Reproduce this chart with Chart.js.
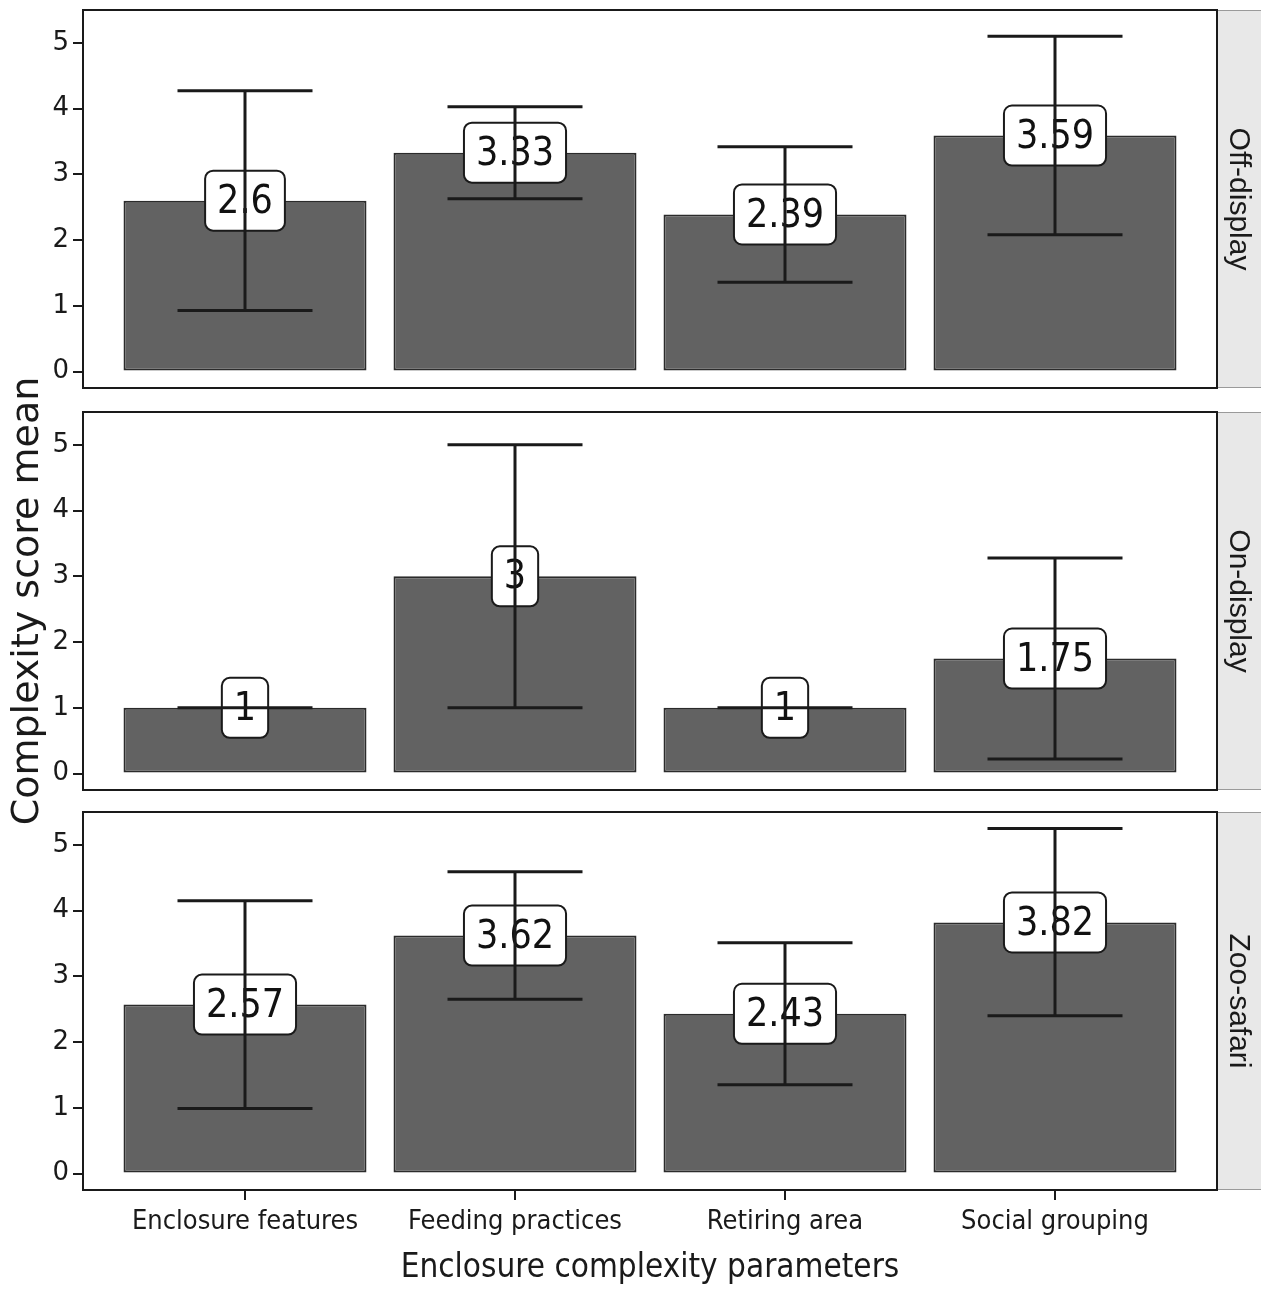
<!DOCTYPE html>
<html>
<head>
<meta charset="utf-8">
<script src="https://cdn.jsdelivr.net/npm/chart.js@4.4.1/dist/chart.umd.min.js"></script>
<style>
  html, body { margin: 0; padding: 0; background: #fff; overflow: hidden; }
  #wrap { position: relative; width: 1261px; height: 1292px; overflow: hidden; }
  #wrap canvas { position: absolute; left: 0; }
  #ytitle {
    position: absolute; left: -275px; top: 579px; width: 600px; height: 44px;
    line-height: 44px; text-align: center; transform: rotate(-90deg);
    font: 38px 'DejaVu Sans', sans-serif; color: #1a1a1a; white-space: nowrap;
  }
</style>
</head>
<body>
<div id="wrap">
  <canvas id="p1" width="1261" height="386" style="top:6px"></canvas>
  <canvas id="p2" width="1261" height="386" style="top:408px"></canvas>
  <canvas id="p3" width="1261" height="484" style="top:808px"></canvas>
  <div id="ytitle">Complexity score mean</div>
</div>
<script>
const categories = ['Enclosure features', 'Feeding practices', 'Retiring area', 'Social grouping'];
const panelNames = ['Off-display', 'On-display', 'Zoo-safari'];
const yTicks = [0, 1, 2, 3, 4, 5];

// means with lower / upper error bar ends
const offMean = [2.6, 3.33, 2.39, 3.59];
const offLow  = [0.93, 2.63, 1.36, 2.08];
const offHigh = [4.27, 4.03, 3.42, 5.1];

const onMean = [1, 3, 1, 1.75];
const onLow  = [1, 1, 1, 0.22];
const onHigh = [1, 5, 1, 3.28];

const zooMean = [2.57, 3.62, 2.43, 3.82];
const zooLow  = [0.99, 2.65, 1.35, 2.4];
const zooHigh = [4.15, 4.59, 3.51, 5.25];

const condensed = "'DejaVu Sans Condensed', 'Liberation Sans Narrow', 'DejaVu Sans', sans-serif";
const ink = '#1a1a1a';

const facetPlugin = {
  id: 'facet',
  afterDatasetsDraw(chart, args, opts) {
    const { ctx, scales: { x, y } } = chart;
    ctx.save();
    // value labels
    ctx.font = `39px ${condensed}`;
    ctx.textAlign = 'center';
    ctx.textBaseline = 'middle';
    opts.mean.forEach((v, i) => {
      const cx = x.getPixelForValue(i + 1);
      const cy = y.getPixelForValue(v);
      const txt = String(v);
      const w = ctx.measureText(txt).width + 24;
      const h = 60;
      ctx.beginPath();
      ctx.roundRect(cx - w / 2, cy - h / 2, w, h, 8);
      ctx.fillStyle = '#fff';
      ctx.fill();
      ctx.lineWidth = 2;
      ctx.strokeStyle = ink;
      ctx.stroke();
      ctx.fillStyle = '#111';
      ctx.fillText(txt, cx, cy + 2);
    });
    // error bars on top of the labels
    ctx.strokeStyle = ink;
    ctx.lineWidth = 3;
    opts.mean.forEach((v, i) => {
      const cx = x.getPixelForValue(i + 1);
      const x0 = x.getPixelForValue(i + 0.75);
      const x1 = x.getPixelForValue(i + 1.25);
      const yl = y.getPixelForValue(opts.low[i]);
      const yh = y.getPixelForValue(opts.high[i]);
      ctx.beginPath();
      ctx.moveTo(x0, yh); ctx.lineTo(x1, yh);
      ctx.moveTo(cx, yh); ctx.lineTo(cx, yl);
      ctx.moveTo(x0, yl); ctx.lineTo(x1, yl);
      ctx.stroke();
    });
    ctx.restore();
  },
  afterDraw(chart, args, opts) {
    const { ctx, chartArea: a } = chart;
    ctx.save();
    // strip on the right
    const sw = chart.width - a.right;
    ctx.fillStyle = '#e8e8e8';
    ctx.fillRect(a.right, a.top, sw, a.bottom - a.top);
    ctx.strokeStyle = '#9a9a9a';
    ctx.lineWidth = 1;
    ctx.beginPath();
    ctx.moveTo(a.right, a.top + 0.5); ctx.lineTo(chart.width, a.top + 0.5);
    ctx.moveTo(a.right, a.bottom - 0.5); ctx.lineTo(chart.width, a.bottom - 0.5);
    ctx.stroke();
    ctx.translate(a.right + sw / 2, (a.top + a.bottom) / 2);
    ctx.rotate(Math.PI / 2);
    ctx.font = "30px 'Liberation Sans', Arial, sans-serif";
    ctx.fillStyle = ink;
    ctx.textAlign = 'center';
    ctx.textBaseline = 'middle';
    ctx.fillText(opts.name, 0, 1);
    ctx.restore();
    // panel frame
    ctx.save();
    ctx.strokeStyle = ink;
    ctx.lineWidth = 2;
    ctx.strokeRect(a.left, a.top, a.right - a.left, a.bottom - a.top);
    ctx.restore();
  }
};

function makePanel(id, name, mean, low, high, showX) {
  new Chart(document.getElementById(id), {
    type: 'bar',
    data: {
      datasets: [{
        data: mean.map((v, i) => ({ x: i + 1, y: v })),
        backgroundColor: '#626262',
        borderColor: '#2b2b2b',
        borderWidth: 2,
        borderSkipped: false,
        categoryPercentage: 1,
        barPercentage: 0.9
      }]
    },
    options: {
      responsive: false,
      animation: false,
      layout: { padding: { top: 4, bottom: showX ? 0 : 4, right: 44, left: 0 } },
      plugins: {
        legend: { display: false },
        tooltip: { enabled: false },
        facet: { name, mean, low, high }
      },
      scales: {
        x: {
          type: 'linear',
          min: 0.4,
          max: 4.6,
          offset: false,
          display: showX,
          afterBuildTicks: s => { s.ticks = categories.map((c, i) => ({ value: i + 1 })); },
          afterFit: s => {
            if (showX) s.height = 102;
            s.paddingLeft = 0;
            s.paddingRight = 0;
          },
          border: { display: false },
          grid: { offset: false, drawOnChartArea: false, drawTicks: true, tickLength: 10, color: ink, lineWidth: 2 },
          ticks: {
            autoSkip: false,
            maxRotation: 0,
            padding: 6,
            color: ink,
            font: { family: condensed, size: 27 },
            callback: v => categories[v - 1]
          },
          title: {
            display: true,
            text: 'Enclosure complexity parameters',
            color: ink,
            font: { family: condensed, size: 33 },
            padding: { top: 2, bottom: 4 }
          }
        },
        y: {
          min: -0.25,
          max: 5.5,
          afterBuildTicks: s => { s.ticks = yTicks.map(v => ({ value: v })); },
          afterFit: s => { s.width = 83; s.paddingTop = 0; s.paddingBottom = 0; },
          border: { display: false },
          grid: { drawOnChartArea: false, drawTicks: true, tickLength: 10, color: ink, lineWidth: 2 },
          ticks: { color: ink, padding: 4, font: { family: "'DejaVu Sans', sans-serif", size: 26 } }
        }
      }
    },
    plugins: [facetPlugin]
  });
}

makePanel('p1', panelNames[0], offMean, offLow, offHigh, false);
makePanel('p2', panelNames[1], onMean, onLow, onHigh, false);
makePanel('p3', panelNames[2], zooMean, zooLow, zooHigh, true);
</script>
</body>
</html>
